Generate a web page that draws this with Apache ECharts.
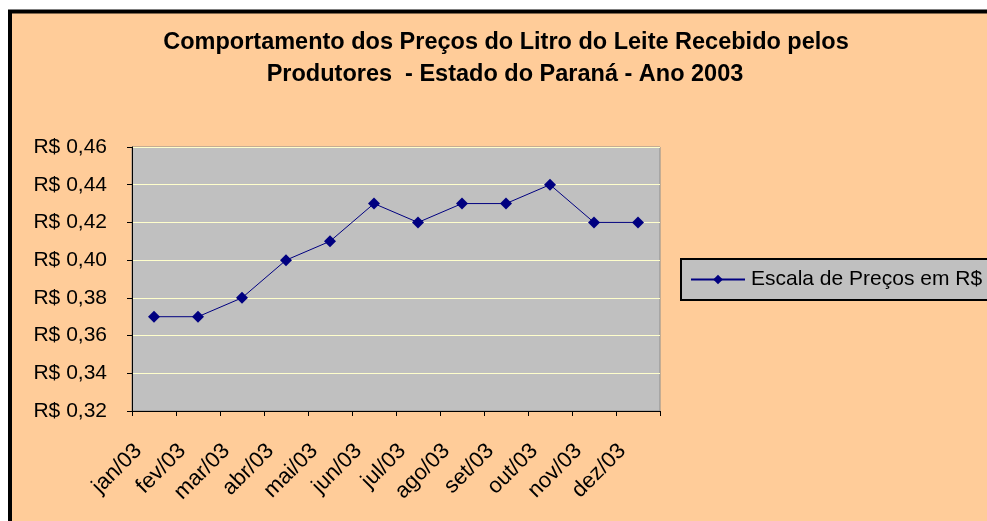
<!DOCTYPE html>
<html>
<head>
<meta charset="utf-8">
<script src="https://cdn.jsdelivr.net/npm/echarts@6/dist/echarts.min.js"></script>
<style>
	html, body { margin: 0; padding: 0; background: #ffffff; }
	#chart { width: 987px; height: 521px; }
</style>
</head>
<body>
<div id="chart"></div>
<script>
	// meses e preços (R$ por litro)
	var meses = ['jan/03', 'fev/03', 'mar/03', 'abr/03', 'mai/03', 'jun/03', 'jul/03', 'ago/03', 'set/03', 'out/03', 'nov/03', 'dez/03'];
	var precos = [0.37, 0.37, 0.38, 0.40, 0.41, 0.43, 0.42, 0.43, 0.43, 0.44, 0.42, 0.42];
	var nomeSerie = 'Escala de Preços em R$';
	var titulo1 = 'Comportamento dos Preços do Litro do Leite Recebido pelos';
	var titulo2 = 'Produtores  - Estado do Paraná - Ano 2003';

	var fonte = '"Liberation Sans", Arial, sans-serif';
	var chart = echarts.init(document.getElementById('chart'));

	var option = {
		backgroundColor: '#ffffff',
		animation: false,
		graphic: [
			{
				type: 'rect',
				z: -10,
				shape: { x: 10, y: 11.5, width: 1000, height: 600 },
				style: { fill: '#FFCC99', stroke: '#000000', lineWidth: 4 }
			},
			{
				type: 'text',
				x: 506, y: 43,
				style: {
					text: titulo1, align: 'center', verticalAlign: 'middle',
					font: 'bold 23.5px ' + fonte, fill: '#000000'
				}
			},
			{
				type: 'text',
				x: 505, y: 75,
				style: {
					text: titulo2, align: 'center', verticalAlign: 'middle',
					font: 'bold 23.5px ' + fonte, fill: '#000000'
				}
			}
		],
		legend: {
			left: 681,
			top: 259,
			orient: 'horizontal',
			backgroundColor: '#C0C0C0',
			borderColor: '#000000',
			borderWidth: 2,
			padding: [10, 30, 10, 9],
			itemWidth: 54,
			itemHeight: 12,
			itemGap: 7,
			textStyle: { fontFamily: fonte, fontSize: 21, color: '#000000', padding: [0, 0, 0, 1] },
			data: [nomeSerie]
		},
		grid: {
			left: 132,
			top: 147,
			width: 528,
			height: 264,
			show: true,
			backgroundColor: '#C0C0C0',
			borderColor: '#8c8c8c',
			borderWidth: 1
		},
		xAxis: {
			type: 'category',
			data: meses,
			boundaryGap: true,
			axisLine: { lineStyle: { color: '#000000', width: 1 } },
			axisTick: { show: true, length: 5, inside: false, lineStyle: { color: '#000000' } },
			axisLabel: {
				rotate: 45,
				margin: 21,
				padding: [0, 22, 0, 0],
				fontFamily: fonte,
				fontSize: 22,
				color: '#000000',
				interval: 0
			}
		},
		yAxis: {
			type: 'value',
			min: 0.32,
			max: 0.46,
			interval: 0.02,
			axisLine: { show: true, lineStyle: { color: '#000000', width: 1 } },
			axisTick: { show: true, length: 5, lineStyle: { color: '#000000' } },
			splitLine: { show: true, lineStyle: { color: '#FFFFCC', width: 1 } },
			axisLabel: {
				margin: 25,
				fontFamily: fonte,
				fontSize: 21,
				color: '#000000',
				formatter: function (v) {
					return 'R$ ' + v.toFixed(2).replace('.', ',');
				}
			}
		},
		series: [
			{
				name: nomeSerie,
				type: 'line',
				data: precos,
				symbol: 'diamond',
				symbolSize: 12,
				lineStyle: { color: '#000080', width: 1 },
				itemStyle: { color: '#000080' }
			}
		]
	};

	chart.setOption(option);
</script>
</body>
</html>
